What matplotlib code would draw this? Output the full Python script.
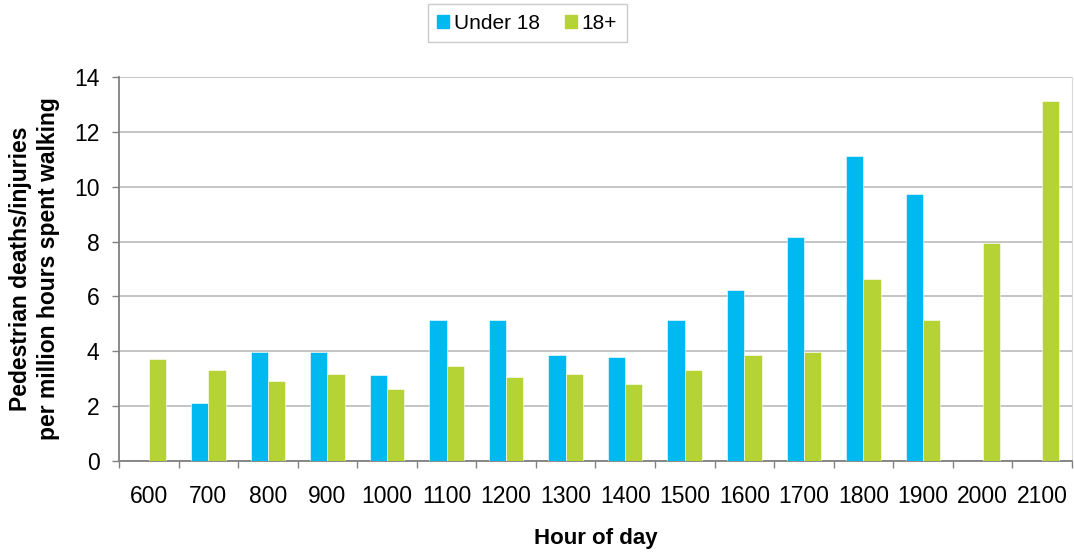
import numpy as np
import matplotlib.pyplot as plt
from matplotlib.patches import Patch

plt.rcParams['font.family'] = ['Liberation Sans', 'DejaVu Sans']

hours = ['600', '700', '800', '900', '1000', '1100', '1200', '1300',
         '1400', '1500', '1600', '1700', '1800', '1900', '2000', '2100']
under18 = [0, 2.13, 3.98, 3.98, 3.12, 5.14, 5.14, 3.85,
           3.79, 5.14, 6.25, 8.17, 11.13, 9.72, 0, 0]
adults = [3.72, 3.30, 2.93, 3.17, 2.62, 3.48, 3.05, 3.17,
          2.80, 3.30, 3.86, 3.98, 6.62, 5.15, 7.93, 13.12]

blue = '#00B9F1'
green = '#B5D334'

fig = plt.figure(figsize=(10.74, 5.52), dpi=100)
ax = fig.add_axes([0.1108, 0.1649, 0.8872, 0.6956])

x = np.arange(len(hours))
w = 0.29
ax.bar(x - w / 2, under18, w, color=blue, edgecolor='white', linewidth=0.4, zorder=3)
ax.bar(x + w / 2, adults, w, color=green, edgecolor='white', linewidth=0.4, zorder=3)

ax.set_xlim(-0.5, len(hours) - 0.5)
ax.set_ylim(0, 14)
ax.set_yticks(np.arange(0, 15, 2))
ax.yaxis.grid(True, color='#BFBFBF', linewidth=1.3, zorder=0)
ax.set_axisbelow(True)

ax.set_xticks(x)
ax.set_xticklabels(hours, fontsize=16.5)
ax.set_xticks(np.arange(-0.5, len(hours), 1), minor=True)
ax.tick_params(axis='x', which='major', length=0, pad=17)
ax.tick_params(axis='x', which='minor', length=5, color='#808080', width=1)
ax.tick_params(axis='y', labelsize=16.5, length=5, color='#808080', width=1, pad=9)

for s in ['left', 'bottom']:
    ax.spines[s].set_color('#808080')
    ax.spines[s].set_linewidth(1.3)
ax.spines['top'].set_visible(False)
ax.spines['right'].set_color('#D9D9D9')

ax.set_xlabel('Hour of day', fontsize=16, fontweight='bold', labelpad=15)
ax.set_ylabel('Pedestrian deaths/injuries\nper million hours spent walking',
              fontsize=16.5, fontweight='bold', labelpad=10, linespacing=1.3)

handles = [Patch(color=blue), Patch(color=green)]
fig.legend(handles, ['Under 18', '18+'], loc='center', bbox_to_anchor=(0.491, 0.958),
           ncol=2, fontsize=15, frameon=True, fancybox=False, edgecolor='#BFBFBF',
           handlelength=0.55, handleheight=0.55, handletextpad=0.25, columnspacing=1.2,
           borderpad=0.45, borderaxespad=0)

fig.savefig('out.png', dpi=100)
